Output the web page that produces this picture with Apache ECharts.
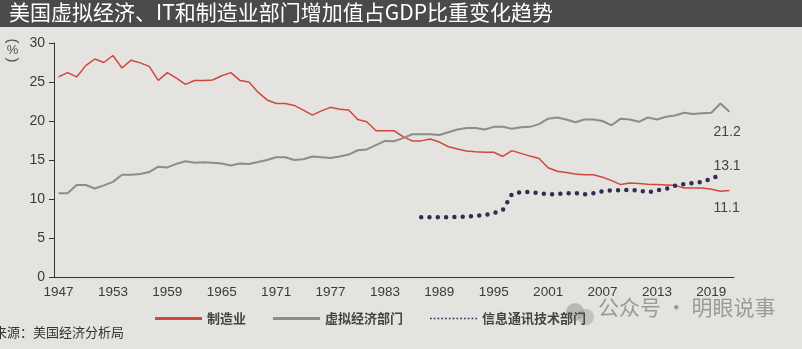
<!DOCTYPE html>
<html>
<head>
<meta charset="utf-8">
<script src="https://cdn.jsdelivr.net/npm/echarts@6/dist/echarts.min.js"></script>
<style>
html,body{margin:0;padding:0;background:#e4e3df;}
#chart{width:802px;height:349px;}
</style>
</head>
<body>
<div id="chart"></div>
<script>
// ---- data ----
var startYear = 1947, endYear = 2021;
var years = [];
for (var y = startYear; y <= endYear; y++) years.push(String(y));

var manufacturing = [
 25.65, 26.2, 25.65, 27.1, 27.95, 27.5, 28.4, 26.8, 27.8, 27.45,
 27.0, 25.2, 26.2, 25.5, 24.7, 25.2, 25.2, 25.25, 25.8, 26.2,
 25.2, 25.0, 23.7, 22.7, 22.25, 22.25, 22.0, 21.4, 20.75, 21.3,
 21.75, 21.5, 21.4, 20.2, 19.9, 18.75, 18.75, 18.75, 18.0, 17.45,
 17.45, 17.7, 17.3, 16.7, 16.4, 16.15, 16.05, 16.0, 16.0, 15.45,
 16.2, 15.85, 15.5, 15.2, 14.0, 13.55, 13.4, 13.2, 13.1, 13.1,
 12.8, 12.35, 11.85, 12.05, 12.0, 11.9, 11.85, 11.8, 11.75, 11.4,
 11.4, 11.4, 11.25, 11.0, 11.1
];
var virtualEconomy = [
 10.75, 10.75, 11.8, 11.8, 11.35, 11.75, 12.2, 13.1, 13.1, 13.2,
 13.45, 14.15, 14.05, 14.5, 14.85, 14.65, 14.7, 14.65, 14.55, 14.3,
 14.55, 14.5, 14.75, 15.0, 15.35, 15.35, 15.0, 15.1, 15.45, 15.35,
 15.25, 15.45, 15.7, 16.25, 16.35, 16.9, 17.45, 17.4, 17.8, 18.3,
 18.3, 18.3, 18.2, 18.55, 18.9, 19.1, 19.1, 18.9, 19.25, 19.25,
 19.0, 19.2, 19.25, 19.6, 20.3, 20.45, 20.2, 19.85, 20.2, 20.2,
 20.0, 19.45, 20.3, 20.2, 19.9, 20.45, 20.2, 20.55, 20.7, 21.05,
 20.9, 21.0, 21.05, 22.25, 21.2
];
var ictStartYear = 1987;
var ict = [
 7.67, 7.67, 7.67, 7.67, 7.7, 7.75, 7.85, 7.95, 8.2, 8.6,
 10.6, 10.9, 10.9, 10.75, 10.6, 10.65, 10.75, 10.75, 10.6, 10.75,
 11.0, 11.1, 11.15, 11.15, 11.1, 10.85, 11.1, 11.3, 11.7, 11.9,
 12.05, 12.2, 12.6, 13.1
];
var seriesNames = ['制造业', '虚拟经济部门', '信息通讯技术部门'];
var yTicks = {min: 0, max: 30, interval: 5};
var titleText = '美国虚拟经济、IT和制造业部门增加值占GDP比重变化趋势';
var sourceText = '来源：美国经济分析局';
var watermarkText = '公众号 · 明眼说事';

// ---- build ----
var ictFull = years.map(function (yr) {
  var i = Number(yr) - ictStartYear;
  return (i >= 0 && i < ict.length) ? ict[i] : null;
});

function endLabel(offset) {
  return {
    show: true, offset: offset, distance: 5,
    formatter: function (p) { var v = Array.isArray(p.value) ? p.value[1] : p.value; return Number(v).toFixed(1); },
    fontFamily: 'Liberation Sans', fontSize: 14, color: '#444'
  };
}

var dotPath = 'path://';
for (var k = 0; k < 13; k++) { var x0 = k * 3.6; dotPath += 'M' + x0 + ' 0h1.6v1.6h-1.6z'; }

var textColor = '#3a3a3a';
var chart = echarts.init(document.getElementById('chart'), null, {renderer: 'canvas'});
chart.setOption({
  backgroundColor: '#e4e3df',
  animation: false,
  grid: {left: 54, right: 68, top: 43, bottom: 72, containLabel: false},
  xAxis: {
    type: 'category', data: years, boundaryGap: true,
    axisLine: {lineStyle: {color: '#333', width: 1}},
    axisTick: {alignWithLabel: true, interval: 5, length: 5, lineStyle: {color: '#333'}},
    axisLabel: {interval: 5, margin: 8, fontFamily: 'Liberation Sans', fontSize: 13.5, color: textColor}
  },
  yAxis: {
    type: 'value', min: yTicks.min, max: yTicks.max, interval: yTicks.interval,
    axisLine: {show: true, lineStyle: {color: '#333', width: 1}},
    axisTick: {show: true, length: 5, lineStyle: {color: '#333'}},
    splitLine: {show: false},
    axisLabel: {margin: 9, fontFamily: 'Liberation Sans', fontSize: 14, color: textColor}
  },
  legend: {
    left: 150, top: 307, itemGap: 27, itemWidth: 47, itemHeight: 3,
    textStyle: {fontFamily: 'Noto Sans CJK SC', fontSize: 13, fontWeight: 'bold', color: '#444'},
    data: [
      {name: seriesNames[0], icon: 'rect'},
      {name: seriesNames[1], icon: 'rect'},
      {name: seriesNames[2], icon: dotPath}
    ]
  },
  series: [
    {name: seriesNames[0], type: 'line', data: manufacturing, endLabel: endLabel([-21, 18]),
     symbol: 'none', lineStyle: {color: '#d0483c', width: 1.5}, itemStyle: {color: '#d0483c'}, z: 2},
    {name: seriesNames[1], type: 'line', data: virtualEconomy, endLabel: endLabel([-21, 21]),
     symbol: 'none', lineStyle: {color: '#8c8c8a', width: 2}, itemStyle: {color: '#8c8c8a'}, z: 3},
    {name: seriesNames[2], type: 'line', data: ictFull, endLabel: endLabel([-12, -9]),
     symbol: 'none', connectNulls: false,
     lineStyle: {color: '#2f2d50', width: 4.5, type: [0, 8.3], cap: 'round'}, itemStyle: {color: '#2f2d50'}, z: 4}
  ],
  graphic: [
    {type: 'rect', left: 0, top: 0, shape: {width: 802, height: 27}, style: {fill: '#4a4a4a'}, silent: true},
    {type: 'text', left: 9, top: 2, style: {text: titleText, fill: '#fff', font: '21px "Noto Sans CJK SC"'}},
    {type: 'text', x: 12.5, y: 41, rotation: -Math.PI / 2, style: {text: '(', fill: '#555', font: '15px "Liberation Sans"', align: 'center', verticalAlign: 'middle'}},
    {type: 'text', x: 12.5, y: 50, style: {text: '%', fill: '#555', font: '13px "Liberation Sans"', align: 'center', verticalAlign: 'middle'}},
    {type: 'text', x: 12.5, y: 60, rotation: -Math.PI / 2, style: {text: ')', fill: '#555', font: '15px "Liberation Sans"', align: 'center', verticalAlign: 'middle'}},
    {type: 'text', left: -6, top: 326, style: {text: sourceText, fill: '#333', font: '13px "Noto Sans CJK SC"'}},
    {type: 'circle', left: 566, top: 303, shape: {r: 9}, style: {fill: 'rgba(150,150,150,0.55)'}},
    {type: 'circle', left: 578, top: 309, shape: {r: 8}, style: {fill: 'rgba(150,150,150,0.45)'}},
    {type: 'text', left: 598, top: 297, style: {text: watermarkText, fill: 'rgba(130,130,130,0.75)', font: '21px "Noto Sans CJK SC"'}}
  ]
});
</script>
</body>
</html>
